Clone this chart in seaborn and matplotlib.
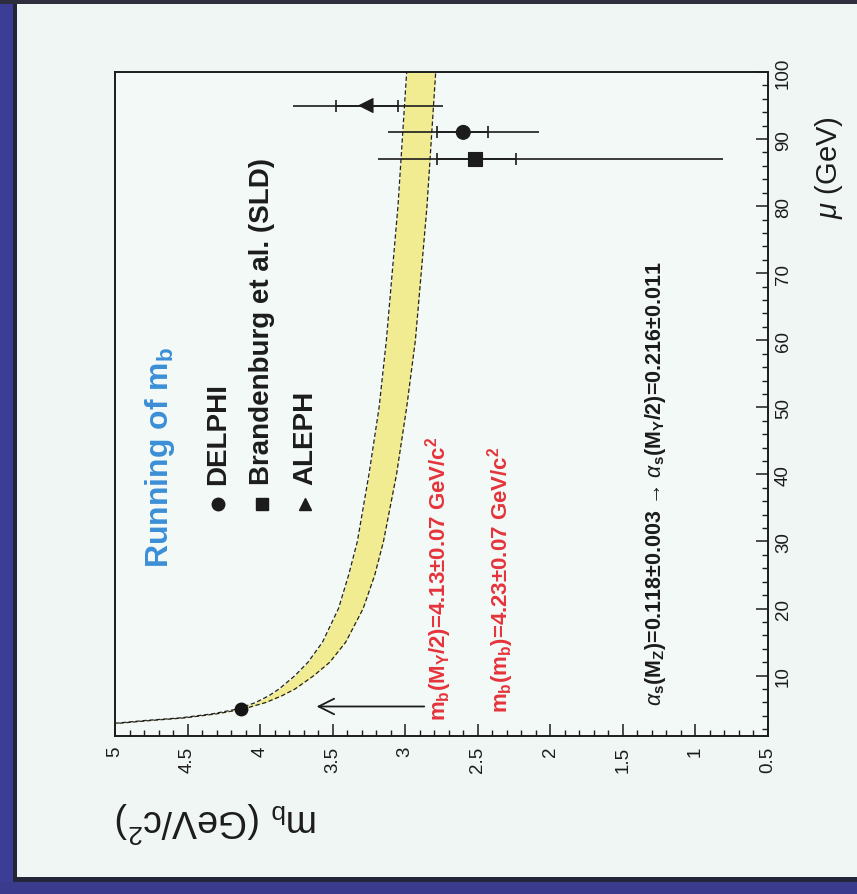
import numpy as np
import pandas as pd
import matplotlib
matplotlib.use('Agg')
import matplotlib.pyplot as plt
import seaborn as sns
from matplotlib.patches import Rectangle
from matplotlib.ticker import MultipleLocator

# ---------------- data ----------------
mu_band = [2.9, 3.3, 3.7, 4.3, 5.0, 6, 7, 8, 10, 12, 15, 20, 25, 30, 40, 50, 60, 70, 80, 90, 100]
mb_upper = [5.00, 4.80, 4.55, 4.33, 4.16, 4.03, 3.94, 3.87, 3.76, 3.67, 3.57, 3.46, 3.39, 3.33,
            3.25, 3.18, 3.13, 3.09, 3.05, 3.02, 2.99]
mb_lower = [4.97, 4.76, 4.52, 4.30, 4.12, 3.96, 3.85, 3.76, 3.63, 3.52, 3.41, 3.29, 3.21, 3.15,
            3.06, 2.99, 2.93, 2.89, 2.85, 2.82, 2.79]

experiments = ['DELPHI', 'Brandenburg et al. (SLD)', 'ALEPH']
exp_markers = ['o', 's', '<']
legend_markers = ['o', 's', '^']
exp_mu = [91, 87, 95]
exp_mb = [2.60, 2.52, 3.27]
stat_up = [0.18, 0.26, 0.21]
stat_dn = [0.17, 0.28, 0.22]
tot_up = [0.52, 0.67, 0.50]
tot_dn = [0.52, 1.71, 0.53]

ref_mu = 5.0
ref_mb = 4.13

mb_ticks = [5, 4.5, 4, 3.5, 3, 2.5, 2, 1.5, 1, 0.5]
mb_ticklabels = ['5', '4.5', '4', '3.5', '3', '2.5', '2', '1.5', '1', '0.5']
mu_ticks = [10, 20, 30, 40, 50, 60, 70, 80, 90, 100]

# ---------------- style ----------------
sns.set_theme(style='ticks')
plt.rcParams['font.family'] = ['Liberation Sans', 'DejaVu Sans']
plt.rcParams['mathtext.fontset'] = 'custom'
plt.rcParams['mathtext.rm'] = 'Liberation Sans'
plt.rcParams['mathtext.it'] = 'Liberation Sans:italic'
plt.rcParams['mathtext.bf'] = 'Liberation Sans:bold'

BG = '#eff6f3'
W, H = 857, 895
fig = plt.figure(figsize=(W / 100, H / 100), dpi=100, facecolor=BG)

# decorative frame of the photographed slide
def frect(x0, y0, x1, y1, color):
    fig.add_artist(Rectangle((x0 / W, 1 - y1 / H), (x1 - x0) / W, (y1 - y0) / H,
                             transform=fig.transFigure, color=color, lw=0, zorder=0))

frect(0, 0, 13, H, '#3b3d96')
frect(13, 5, 17, 881, '#25253a')
frect(0, 0, W, 5, '#2e2e3e')
frect(13, 878, W, 883, '#25253a')
frect(0, 883, W, H, '#3a3b8c')

L, R, T, B = 115, 768, 73, 737
ax = fig.add_axes([L / W, 1 - B / H, (R - L) / W, (B - T) / H])
ax.set_facecolor('#f3f9f7')

# band (x = m_b, y = mu; chart is drawn rotated)
ax.fill_betweenx(mu_band, mb_lower, mb_upper, color='#f1ec92', lw=0, zorder=1)
band_df = pd.DataFrame({'mu': mu_band, 'upper': mb_upper, 'lower': mb_lower})
sns.lineplot(data=band_df, x='upper', y='mu', orient='y', ax=ax, color='#222222',
             lw=0.9, linestyle=(0, (3.5, 2)), zorder=2)
sns.lineplot(data=band_df, x='lower', y='mu', orient='y', ax=ax, color='#222222',
             lw=0.9, linestyle=(0, (3.5, 2)), zorder=2)

# reference point
ax.plot([ref_mb], [ref_mu], marker='o', ms=9, color='#151515', zorder=4, ls='none')

# experiments: total errors (no caps) and statistical errors (caps)
for i in range(len(experiments)):
    ax.errorbar([exp_mb[i]], [exp_mu[i]], xerr=[[tot_dn[i]], [tot_up[i]]], fmt='none',
                ecolor='#1c1c1c', elinewidth=1.2, capsize=0, zorder=3)
    ax.errorbar([exp_mb[i]], [exp_mu[i]], xerr=[[stat_dn[i]], [stat_up[i]]], fmt='none',
                ecolor='#1c1c1c', elinewidth=1.2, capsize=4.5, capthick=1.2, zorder=3)
exp_df = pd.DataFrame({'mb': exp_mb, 'mu': exp_mu, 'exp': experiments})
sns.scatterplot(data=exp_df, x='mb', y='mu', style='exp', markers=dict(zip(experiments, exp_markers)),
                color='#1c1c1c', s=100, ax=ax, legend=False, zorder=5, edgecolor='#1c1c1c')

# arrow
ax.annotate('', xy=(3.63, 5.4), xytext=(2.85, 5.4),
            arrowprops=dict(arrowstyle='->', lw=1.3, color='#1c1c1c', mutation_scale=28))

# axes
ax.set_xlim(5, 0.5)
ax.set_ylim(1, 100)
ax.set_xlabel('')
ax.set_ylabel('')
ax.set_xticks(mb_ticks)
ax.set_xticklabels(mb_ticklabels, rotation=90, fontsize=13.5)
ax.xaxis.set_minor_locator(MultipleLocator(0.1))
ax.set_yticks(mu_ticks)
ax.set_yticklabels([str(t) for t in mu_ticks], rotation=90, fontsize=13.5, va='center')
ax.yaxis.set_minor_locator(MultipleLocator(2))
ax.yaxis.tick_right()
ax.tick_params(axis='both', which='major', direction='in', length=9, width=1.1, colors='#1c1c1c')
ax.tick_params(axis='both', which='minor', direction='in', length=4.5, width=1.0, colors='#1c1c1c')
ax.tick_params(axis='x', pad=7, bottom=True, top=False, which='both')
ax.tick_params(axis='y', pad=5, right=True, left=False, which='both')
for sp in ax.spines.values():
    sp.set_color('#1c1c1c')
    sp.set_linewidth(1.4)
    sp.set_visible(True)

# axis titles (rotated page)
ax.text(1.093, 0.857, r'$\mu$ (GeV)', transform=ax.transAxes, rotation=90,
        ha='center', va='center', fontsize=21, color='#1c1c1c')
ax.text(0.155, -0.128, r'm$_\mathrm{b}$ (GeV/c$^2$)', transform=ax.transAxes, rotation=180,
        ha='center', va='center', fontsize=27, color='#1c1c1c')

# title and legend (rotated)
ax.text(0.069, 0.255, r'Running of m$_\mathbf{b}$', transform=ax.transAxes, rotation=90,
        ha='center', va='bottom', fontsize=23, fontweight='bold', color='#3b8fd6')
leg_x = [0.158, 0.225, 0.291]
for i in range(len(experiments)):
    ax.plot([leg_x[i]], [0.349], marker=legend_markers[i], ms=9, color='#1c1c1c',
            transform=ax.transAxes, ls='none')
    ax.text(leg_x[i], 0.380, experiments[i], transform=ax.transAxes, rotation=90,
            ha='center', va='bottom', fontsize=20, fontweight='bold', color='#1c1c1c')

RED = '#e5333b'
ax.text(0.495, 0.024, r'm$_\mathbf{b}$(M$_\mathbf{\Upsilon}$/2)=4.13±0.07 GeV/c$^\mathbf{2}$',
        transform=ax.transAxes, rotation=90, ha='center', va='bottom', fontsize=16,
        fontweight='bold', color=RED)
ax.text(0.590, 0.036, r'm$_\mathbf{b}$(m$_\mathbf{b}$)=4.23±0.07 GeV/c$^\mathbf{2}$',
        transform=ax.transAxes, rotation=90, ha='center', va='bottom', fontsize=16,
        fontweight='bold', color=RED)
ax.text(0.827, 0.046,
        r'$\alpha_\mathbf{s}$(M$_\mathbf{Z}$)=0.118±0.003 → $\alpha_\mathbf{s}$(M$_\mathbf{\Upsilon}$/2)=0.216±0.011',
        transform=ax.transAxes, rotation=90, ha='center', va='bottom', fontsize=15.5,
        fontweight='bold', color='#1c1c1c')

fig.savefig('out.png', dpi=100, facecolor=BG)
